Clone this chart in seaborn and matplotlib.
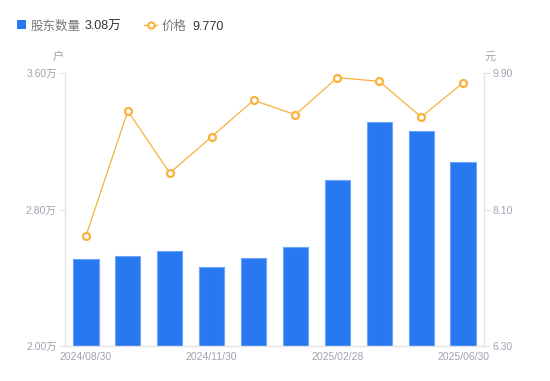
import numpy as np
import matplotlib
matplotlib.use("Agg")
import matplotlib.pyplot as plt
import seaborn as sns
from matplotlib.lines import Line2D
from matplotlib.patches import Rectangle

# data
dates = ["2024/08/30", "2024/09/30", "2024/10/31", "2024/11/30", "2024/12/31",
         "2025/01/27", "2025/02/28", "2025/03/31", "2025/05/20", "2025/06/30"]
holders = [2.51, 2.53, 2.555, 2.465, 2.515, 2.58, 2.97, 3.315, 3.26, 3.08]   # 万户
prices = [7.75, 9.40, 8.58, 9.06, 9.54, 9.35, 9.84, 9.79, 9.32, 9.77]      # 元
shown_ticks = [0, 3, 6, 9]
left_ticks = [2.00, 2.80, 3.60]
right_ticks = [6.30, 8.10, 9.90]

sns.set_style("white")
plt.rcParams['font.family'] = ['Liberation Sans', 'Noto Sans CJK SC', 'DejaVu Sans']

blue = "#2878F2"
orange = "#F8B23A"
gray = "#A0A3B0"
axcol = "#E3E4E8"

fig = plt.figure(figsize=(5.5, 3.81), dpi=100)
ax = fig.add_axes([65/550, 1-346/381, 419/550, 273/381])

x = np.arange(len(dates))
sns.barplot(x=x, y=holders, color=blue, width=0.6, ax=ax,
            edgecolor="#6FA5F7", linewidth=0.8, saturation=1)
ax.set_xlim(-0.5, len(dates) - 0.5)
ax.set_ylim(left_ticks[0], left_ticks[-1])

ax2 = ax.twinx()
sns.lineplot(x=x, y=prices, color=orange, linewidth=0.9, ax=ax2,
             marker="o", markersize=5, markerfacecolor="white",
             markeredgecolor=orange, markeredgewidth=1.6)
ax2.set_ylim(right_ticks[0], right_ticks[-1])
ax2.set_xlim(-0.5, len(dates) - 0.5)

ax.set_xticks(shown_ticks)
ax.set_xticklabels([dates[i] for i in shown_ticks])
ax.set_yticks(left_ticks)
ax.set_yticklabels([f"{v:.2f}万" for v in left_ticks])
ax2.set_yticks(right_ticks)
ax2.set_yticklabels([f"{v:.2f}" for v in right_ticks])

for a in (ax, ax2):
    for s in a.spines.values():
        s.set_visible(False)
    a.set_xlabel("")
    a.set_ylabel("")
ax.spines['left'].set_visible(True)
ax.spines['bottom'].set_visible(True)
ax2.spines['right'].set_visible(True)
for s in (ax.spines['left'], ax.spines['bottom'], ax2.spines['right']):
    s.set_color(axcol)
    s.set_linewidth(1)

ax.tick_params(axis='y', length=4, color=axcol, labelcolor=gray, labelsize=7.5, pad=2, left=True)
ax.tick_params(axis='x', length=0, labelcolor=gray, labelsize=7.5, pad=4, bottom=True)
ax2.tick_params(axis='y', length=4, color=axcol, labelcolor=gray, labelsize=7.5, pad=2, right=True)
if ax2.get_legend():
    ax2.get_legend().remove()

# unit labels
fig.text(58/550, 1-57/381, "户", color=gray, fontsize=8, ha="center", va="center")
fig.text(490/550, 1-57/381, "元", color=gray, fontsize=8, ha="center", va="center")

# legend row
ly = 1 - 25/381
fig.patches.append(Rectangle((17/550, 1-29/381), 9/550, 9/381, transform=fig.transFigure,
                             facecolor=blue, edgecolor="none"))
fig.text(31/550, ly, "股东数量", color="#777", fontsize=9, va="center_baseline")
fig.text(85/550, ly, "3.08万", color="#333", fontsize=9, va="center_baseline")
fig.lines.append(Line2D([144/550, 157/550], [ly, ly], transform=fig.transFigure,
                        color=orange, linewidth=1))
fig.lines.append(Line2D([150.5/550], [ly], transform=fig.transFigure,
                        color=orange, marker="o", markersize=4.5, markerfacecolor="white",
                        markeredgewidth=1.5, linestyle="none"))
fig.text(162/550, ly, "价格", color="#777", fontsize=9, va="center_baseline")
fig.text(192/550, ly, "9.770", color="#333", fontsize=9, va="center_baseline")

fig.savefig("out.png", dpi=100)
